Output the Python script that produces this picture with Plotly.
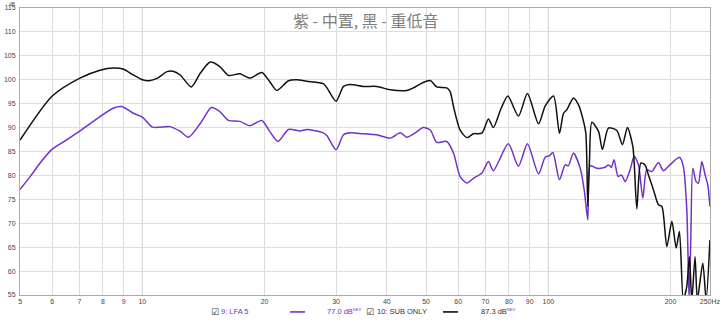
import plotly.graph_objects as go
import math

# ---- data ----
sub_freq = [5.0, 6.0, 7.0, 7.87, 8.5, 9.0, 9.5, 10.0, 10.4, 10.9, 11.5, 11.9,
            12.4, 13.2, 13.9, 14.7, 15.5, 16.3, 17.4, 18.4, 19.7, 20.6, 21.45, 22.9, 24.0,
            25.4, 27.9, 28.5, 30.0, 31.3, 32.5, 35.0, 37.8, 40.8, 44.8, 46.5, 48.8, 51.2,
            53.1, 56.2, 57.3, 58.4, 60.6, 63.0, 65.4, 68.6, 71.2, 73.2, 76.5, 79.5, 84.4,
            88.8, 94.6, 98.2, 103.0, 106.5, 109.0, 111.0, 115.3, 118.6, 122.0, 123.7, 125.1,
            126.3, 128.0, 132.9, 135.9, 140.6, 147.5, 152.2, 156.6, 161.5, 165.2, 169.0,
            173.0, 176.4, 181.5, 186.7, 190.4, 195.8, 201.5, 206.5, 210.3, 215.0, 219.3,
            222.5, 225.6, 229.8, 232.8, 240.1, 244.7, 250.0]
sub_db = [87.4, 96.6, 100.3, 102.0, 102.45, 102.2, 101.0, 100.0, 99.8, 100.35,
          101.7, 101.8, 101.0, 98.5, 101.4, 103.7, 102.8, 100.9, 101.25, 100.35, 101.5, 99.6,
          97.75, 99.8, 100.0, 99.7, 99.2, 98.3, 95.5, 98.6, 99.0, 98.6, 98.6, 97.9, 97.75, 98.3,
          99.3, 99.85, 98.5, 98.3, 97.5, 94.4, 89.5, 87.9, 88.7, 88.85, 91.8, 90.0, 94.0, 96.6,
          92.4, 97.1, 90.8, 94.5, 96.6, 88.8, 93.0, 93.7, 96.2, 94.8, 91.4, 88.8, 73.5, 83.3,
          91.1, 89.2, 85.4, 89.9, 89.4, 86.4, 90.0, 86.0, 73.0, 82.6, 82.2, 80.1, 77.0, 73.85,
          73.5, 65.1, 70.4, 64.8, 68.3, 54.0, 56.8, 63.0, 54.0, 63.0, 54.0, 61.65, 54.0, 66.5]

lfa_freq = [5.0, 5.3, 5.6, 6.0, 6.5, 7.0, 7.87, 8.5, 8.9, 9.5, 10.0, 10.6, 11.7, 12.4, 13.0,
            13.9, 14.8, 15.5, 16.3, 17.4, 18.4, 19.7, 20.6, 21.6, 22.9, 24.5, 25.4, 27.9, 28.5,
            30.0, 31.3, 32.5, 35.0, 37.8, 40.8, 43.2, 44.8, 47.0, 49.2, 51.2, 53.1, 56.2, 58.4,
            60.6, 63.0, 65.4, 68.6, 71.2, 73.2, 79.7, 84.4, 88.8, 94.6, 98.2, 100.6, 102.6,
            106.5, 110.0, 112.0, 115.3, 120.0, 122.7, 125.1, 126.8, 131.7, 138.0, 140.6, 143.0,
            145.2, 148.5, 151.5, 154.6, 159.0, 162.7, 166.7, 170.9, 174.8, 179.8, 186.7, 192.0,
            197.6, 210.3, 215.0, 219.3, 222.2, 224.3, 226.9, 231.2, 234.2, 238.8, 243.3, 247.0,
            250.0]
lfa_db = [77.1, 79.8, 82.6, 85.5, 87.4, 89.2, 92.3, 94.1, 94.4, 93.0, 92.2, 90.1, 90.2, 89.2,
          88.0, 90.9, 94.2, 93.4, 91.5, 91.3, 90.4, 91.5, 89.2, 87.1, 89.6, 89.3, 89.6, 88.9,
          88.3, 85.35, 88.5, 88.9, 88.7, 88.5, 87.8, 88.9, 88.0, 88.9, 90.0, 89.5, 86.9, 87.1,
          84.7, 79.8, 78.4, 79.4, 80.5, 82.9, 81.0, 86.6, 81.9, 86.6, 80.3, 83.8, 84.1, 84.8,
          79.1, 82.2, 82.0, 84.7, 81.3, 76.6, 70.7, 82.0, 81.5, 81.7, 82.2, 81.7, 83.3, 79.8,
          80.1, 78.7, 81.2, 84.0, 82.2, 75.25, 81.2, 80.8, 82.7, 81.0, 81.9, 83.8, 81.9, 72.8,
          54.0, 66.5, 81.5, 78.7, 78.4, 82.9, 80.1, 78.0, 73.5]

x_ticks = [5, 6, 7, 8, 9, 10, 20, 30, 40, 50, 60, 70, 80, 90, 100, 200, 250]
x_labels = ["5", "6", "7", "8", "9", "10", "20", "30", "40", "50", "60", "70", "80", "90",
            "100", "200", "250Hz"]
y_ticks = list(range(55, 116, 5))
y_labels = [str(v) for v in y_ticks]

title_text = "紫 - 中置, 黑 - 重低音"
lfa_name = "9: LFA 5"
sub_name = "10: SUB ONLY"
lfa_level = "77.0 dB"
sub_level = "87.3 dB"

PURPLE = "#7232c8"
BLACK = "#111111"

fig = go.Figure()
fig.add_trace(go.Scatter(x=lfa_freq, y=lfa_db, mode="lines",
                         line=dict(color=PURPLE, width=1.5, shape="spline", smoothing=0.7),
                         hoverinfo="skip", showlegend=False))
fig.add_trace(go.Scatter(x=sub_freq, y=sub_db, mode="lines",
                         line=dict(color=BLACK, width=1.5, shape="spline", smoothing=0.7),
                         hoverinfo="skip", showlegend=False))

tickfont = dict(family="Liberation Sans", size=7, color="#444")
fig.update_layout(
    width=720, height=320,
    margin=dict(l=20, r=10, t=8, b=25, autoexpand=False),
    paper_bgcolor="white", plot_bgcolor="white",
    showlegend=False,
    xaxis=dict(type="log", range=[math.log10(5) - 0.0002, math.log10(250) + 0.0002],
               tickvals=x_ticks, ticktext=x_labels, tickfont=tickfont,
               ticklabeloverflow="allow", automargin=False,
               showgrid=True, gridcolor="#dcdcdc", gridwidth=1,
               showline=True, linecolor="#aaaaaa", linewidth=1, mirror=True,
               ticks="", zeroline=False, fixedrange=True),
    yaxis=dict(range=[55, 115], tickvals=y_ticks, ticktext=y_labels, tickfont=tickfont,
               automargin=False,
               showgrid=True, gridcolor="#dcdcdc", gridwidth=1,
               showline=True, linecolor="#aaaaaa", linewidth=1, mirror=True,
               ticks="", zeroline=False, fixedrange=True, ticklabelstandoff=2),
)

# darker decade lines
for d in (10, 100):
    fig.add_shape(type="line", xref="x", yref="paper", x0=d, x1=d, y0=0, y1=1,
                  line=dict(color="#b4b4b4", width=1), layer="below")

fig.add_annotation(text=title_text, xref="paper", yref="paper", x=0.5, y=0.958,
                   xanchor="center", yanchor="middle", showarrow=False,
                   font=dict(family="Noto Sans CJK SC", size=16, color="#808080"))
fig.add_annotation(text="dB", xref="paper", yref="paper", x=-0.011, y=1.0289,
                   xanchor="center", yanchor="top", showarrow=False, borderpad=0,
                   font=dict(family="Liberation Sans", size=5, color="#444"))

def px(xp):
    return (xp - 20) / 690.0

ly = -0.059
lf = dict(family="Liberation Sans", size=7.5)
sup_p = "<sup><span style='font-size:4px'>NEV</span></sup>"
fig.add_annotation(text="☑", xref="paper", yref="paper", x=px(209), y=ly, xanchor="left",
                   yanchor="middle", showarrow=False, font=dict(family="DejaVu Sans", size=9, color="#333"))
fig.add_annotation(text=lfa_name, xref="paper", yref="paper", x=px(219), y=ly, xanchor="left",
                   yanchor="middle", showarrow=False, font=dict(color=PURPLE, **lf))
fig.add_shape(type="line", xref="paper", yref="paper", x0=px(290), x1=px(305), y0=ly, y1=ly,
              line=dict(color=PURPLE, width=1.6))
fig.add_annotation(text=lfa_level + sup_p, xref="paper", yref="paper",
                   x=px(325), y=ly, xanchor="left", yanchor="middle", showarrow=False,
                   font=dict(color=PURPLE, **lf))
fig.add_annotation(text="☑", xref="paper", yref="paper", x=px(364), y=ly, xanchor="left",
                   yanchor="middle", showarrow=False, font=dict(family="DejaVu Sans", size=9, color="#333"))
fig.add_annotation(text=sub_name, xref="paper", yref="paper", x=px(375), y=ly, xanchor="left",
                   yanchor="middle", showarrow=False, font=dict(color="#333", **lf))
fig.add_shape(type="line", xref="paper", yref="paper", x0=px(443), x1=px(458), y0=ly, y1=ly,
              line=dict(color=BLACK, width=1.6))
fig.add_annotation(text=sub_level + "<sup><span style='font-size:4px;color:" + PURPLE + "'>NEV</span></sup>",
                   xref="paper", yref="paper",
                   x=px(479), y=ly, xanchor="left", yanchor="middle", showarrow=False,
                   font=dict(color="#333", **lf))

fig.write_html("out.html")
